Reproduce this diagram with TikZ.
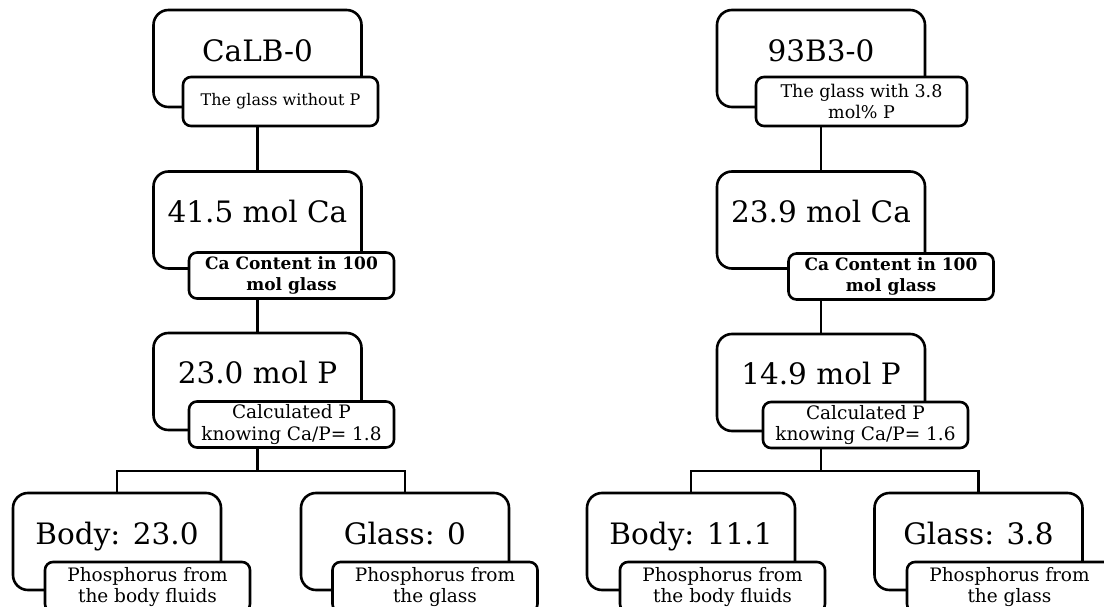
\documentclass[tikz,border=0pt]{standalone}
\usepackage{fontspec}
\setmainfont{DejaVu Serif}
\begin{document}
\begin{tikzpicture}[x=1pt,y=-1pt,
  line width=2.6pt,
  bigbox/.style={draw, rounded corners=15pt, minimum width=208pt, minimum height=97pt, inner sep=0pt},
  smallbox/.style={draw, fill=white, rounded corners=8pt, minimum width=205pt, minimum height=46pt, inner sep=1pt, align=center},
  bigtext/.style={anchor=base, inner sep=0pt, font=\fontsize{29.5}{34}\selectfont},
  stxt/.style={font=\fontsize{18.5}{21.5}\selectfont},
  stxtA/.style={font=\fontsize{16}{20}\selectfont},
  stxtB/.style={font=\fontsize{17.5}{21}\selectfont},
  stxtbold/.style={font=\fontsize{17}{21}\selectfont\bfseries},
  link/.style={draw, line width=2.6pt}
]
\useasboundingbox (0,0) rectangle (1104,607);

% ---------- left column ----------
\node[bigbox] (L1) at (257.5,58.5) {};
\node[bigtext] (L1t) at ([yshift=-53pt]L1.north) {CaLB-0};
\node[smallbox, stxtA, minimum width=195pt, minimum height=49pt] (L1s) at (280.5,101.5) {The glass without P};

\node[bigbox] (L2) at (257.5,220) {};
\node[bigtext] (L2t) at ([yshift=-52pt]L2.north) {41.5 mol Ca};
\node[smallbox, stxtbold] (L2s) at (291.5,275.5) {Ca Content in 100\\mol glass};

\node[bigbox] (L3) at (257.5,381.5) {};
\node[bigtext] (L3t) at ([yshift=-52pt]L3.north) {23.0 mol P};
\node[smallbox, stxt] (L3s) at (291.5,424.5) {Calculated P\\knowing Ca/P= 1.8};

\node[bigbox] (LB) at (117,541.5) {};
\node[bigtext] (LBt) at ([yshift=-53pt]LB.north) {Body: 23.0};
\node[smallbox, stxt, minimum height=50pt] (LBs) at (147.5,587) {Phosphorus from\\the body fluids};

\node[bigbox] (LG) at (405,541.5) {};
\node[bigtext] (LGt) at ([yshift=-53pt]LG.north) {Glass: 0};
\node[smallbox, stxt, minimum height=50pt] (LGs) at (435,587) {Phosphorus from\\the glass};

\draw[link] (L1s.south -| L2.north) -- (L2.north);
\draw[link] (L2s.south -| L3.north) -- (L3.north);
\coordinate (Lj) at (257.5,471);
\draw[link] (L3s.south -| Lj) -- (Lj);
\draw[link] (LB.north) |- (Lj) -| (LG.north);

% ---------- right column ----------
\node[bigbox] (R1) at (821,58.5) {};
\node[bigtext] (R1t) at ([yshift=-53pt]R1.north) {93B3-0};
\node[smallbox, stxtB, minimum width=211pt, minimum height=49pt] (R1s) at (861.5,101.5) {The glass with 3.8\\mol\% P};

\node[bigbox] (R2) at (821,220) {};
\node[bigtext] (R2t) at ([yshift=-52pt]R2.north) {23.9 mol Ca};
\node[smallbox, stxtbold] (R2s) at (891,276.5) {Ca Content in 100\\mol glass};

\node[bigbox] (R3) at (821,382.5) {};
\node[bigtext] (R3t) at ([yshift=-52pt]R3.north) {14.9 mol P};
\node[smallbox, stxt] (R3s) at (865.5,425) {Calculated P\\knowing Ca/P= 1.6};

\node[bigbox] (RB) at (691,541.5) {};
\node[bigtext] (RBt) at ([yshift=-53pt]RB.north) {Body: 11.1};
\node[smallbox, stxt, minimum height=50pt] (RBs) at (722.5,587) {Phosphorus from\\the body fluids};

\node[bigbox] (RG) at (978.5,541.5) {};
\node[bigtext] (RGt) at ([yshift=-53pt]RG.north) {Glass: 3.8};
\node[smallbox, stxt, minimum height=50pt] (RGs) at (1009.5,587) {Phosphorus from\\the glass};

\draw[link] (R1s.south -| R2.north) -- (R2.north);
\draw[link] (R2s.south -| R3.north) -- (R3.north);
\coordinate (Rj) at (821,471);
\draw[link] (R3s.south -| Rj) -- (Rj);
\draw[link] (RB.north) |- (Rj) -| (RG.north);
\end{tikzpicture}
\end{document}
